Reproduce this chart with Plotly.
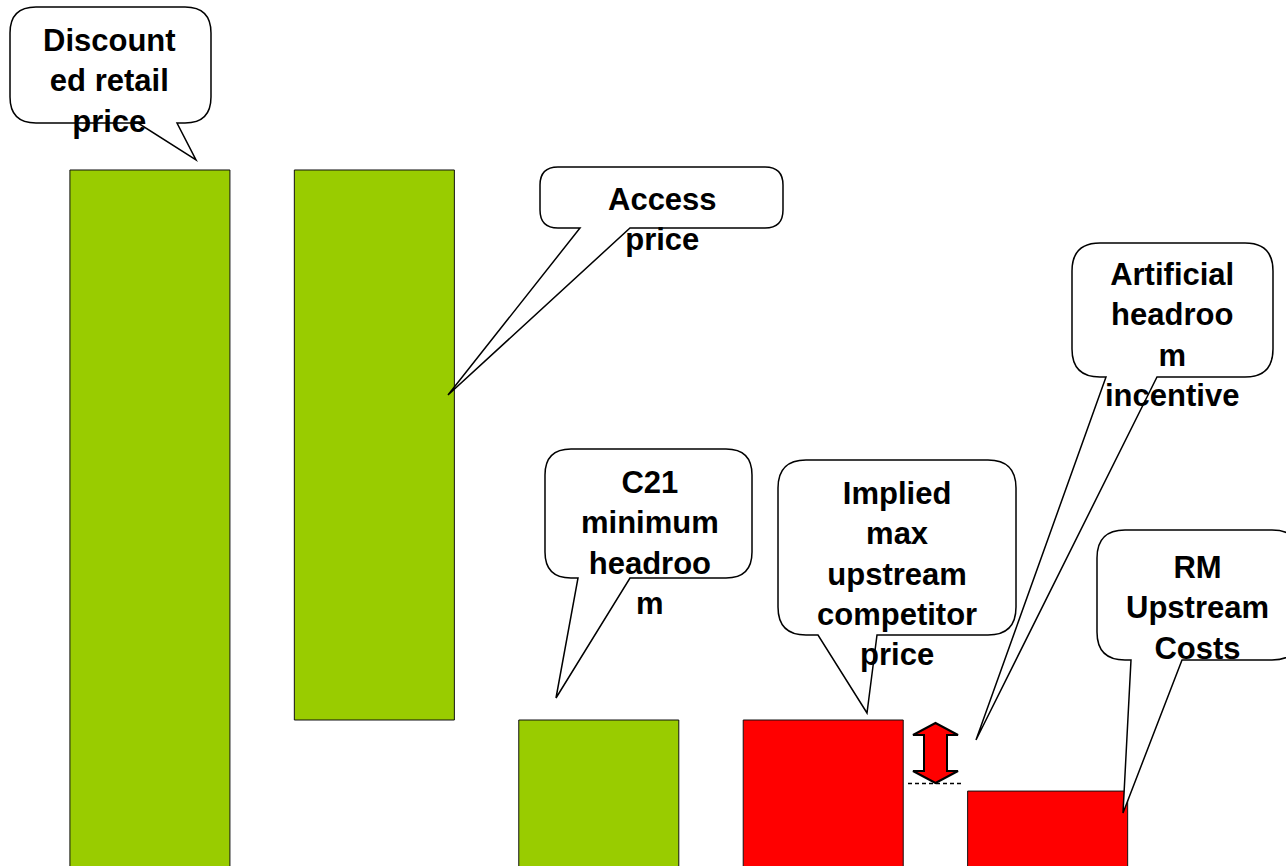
import plotly.graph_objects as go

W, H = 1286, 866

# ---- data ----
categories = ["Discounted retail price", "Access price", "C21 minimum headroom",
              "Implied max upstream competitor price", "RM Upstream Costs"]
bar_values = [10.0, 6.5, 3.5, 3.5, 2.66]
bar_bases = [0.0, 3.5, 0.0, 0.0, 0.0]
bar_colors = ["#99CC00", "#99CC00", "#99CC00", "#FF0000", "#FF0000"]
callout_texts = ["Discount<br>ed retail<br>price", "Access<br>price",
                 "C21<br>minimum<br>headroo<br>m",
                 "Implied<br>max<br>upstream<br>competitor<br>price",
                 "Artificial<br>headroo<br>m<br>incentive",
                 "RM<br>Upstream<br>Costs"]

x_pos = list(range(len(categories)))

fig = go.Figure()
fig.add_trace(go.Bar(
    x=x_pos, y=bar_values, base=bar_bases, width=0.713,
    marker=dict(color=bar_colors, line=dict(color="#111111", width=1)),
    hovertext=categories, showlegend=False,
))


def P(x, y):
    return x / W, 1 - y / H


def callout(x0, y0, x1, y1, r, tb1, tb2, tip):
    # rounded rectangle (pixel coords) with tail on bottom edge; output in paper coords
    def p(x, y):
        a, b = P(x, y)
        return f"{a:.5f},{b:.5f}"
    d = (f"M {p(x0 + r, y0)} L {p(x1 - r, y0)} Q {p(x1, y0)} {p(x1, y0 + r)} "
         f"L {p(x1, y1 - r)} Q {p(x1, y1)} {p(x1 - r, y1)} "
         f"L {p(tb2, y1)} L {p(tip[0], tip[1])} L {p(tb1, y1)} "
         f"L {p(x0 + r, y1)} Q {p(x0, y1)} {p(x0, y1 - r)} "
         f"L {p(x0, y0 + r)} Q {p(x0, y0)} {p(x0 + r, y0)} Z")
    fig.add_shape(type="path", path=d, xref="paper", yref="paper",
                  fillcolor="white", line=dict(color="black", width=1.5), layer="above")


# callout boxes: (x0, y0, x1, y1, radius, tail base1, tail base2, tip)
boxes = [
    (10, 7, 211, 123, 26, 138, 177, (196, 160)),
    (540, 167, 783, 228, 18, 580, 630, (448, 395)),
    (545, 449, 752, 578, 26, 578, 630, (556, 698)),
    (778, 460, 1016, 635, 28, 818, 877, (867, 713)),
    (1072, 243, 1273, 377, 28, 1106, 1157, (976, 740)),
    (1097, 530, 1300, 660, 28, 1131, 1182, (1123, 813)),
]
text_centers = [(110, 81), (662, 220), (650, 543), (897, 574), (1172, 335), (1197, 608)]

for b in boxes:
    callout(*b)

for t, (cx, cy) in zip(callout_texts, text_centers):
    px_, py_ = P(cx, cy)
    fig.add_annotation(x=px_, y=py_, xref="paper", yref="paper", text=t,
                       showarrow=False, xanchor="center", yanchor="middle", align="center",
                       font=dict(family="Arial, 'Liberation Sans', sans-serif", size=31,
                                 color="black", weight="bold"))

# double-headed arrow
arrow_pts = [(935.5, 723), (958, 735), (947, 735), (947, 771), (958, 771), (935.5, 783),
             (913, 771), (924, 771), (924, 735), (913, 735)]
d = "M " + " L ".join("{:.5f},{:.5f}".format(*P(x, y)) for x, y in arrow_pts) + " Z"
fig.add_shape(type="path", path=d, xref="paper", yref="paper", fillcolor="#FF0000",
              line=dict(color="black", width=2), layer="above")
a0 = P(908, 783.5)
a1 = P(962, 783.5)
fig.add_shape(type="line", x0=a0[0], y0=a0[1], x1=a1[0], y1=a1[1], xref="paper", yref="paper",
              line=dict(color="black", width=1.3, dash="4px,3px"), layer="above")

fig.update_layout(
    width=W, height=H, margin=dict(l=0, r=0, t=0, b=0),
    paper_bgcolor="white", plot_bgcolor="white",
    xaxis=dict(range=[-0.668, 5.062], visible=False, fixedrange=True),
    yaxis=dict(range=[1.7745, 12.009], visible=False, fixedrange=True),
    bargap=0.287,
)

fig.write_html("out.html")
